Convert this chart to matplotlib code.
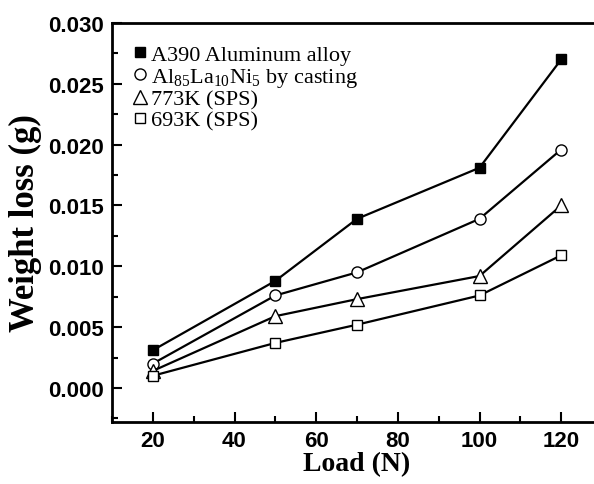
import numpy as np
import matplotlib
matplotlib.use("Agg")
import matplotlib.pyplot as plt
from matplotlib.ticker import MultipleLocator, FormatStrFormatter

plt.rcParams['mathtext.fontset'] = 'custom'
plt.rcParams['mathtext.rm'] = 'Liberation Serif'
plt.rcParams['mathtext.it'] = 'Liberation Serif:italic'

# data
load = [20, 50, 70, 100, 120]
a390 = [0.0031, 0.0088, 0.0139, 0.0181, 0.0270]
casting = [0.0020, 0.0076, 0.0095, 0.0139, 0.0196]
sps_773 = [0.0014, 0.0059, 0.0073, 0.0092, 0.0150]
sps_693 = [0.0010, 0.0037, 0.0052, 0.0076, 0.0109]

labels = ['A390 Aluminum alloy',
          r'Al$\mathregular{_{85}}$La$\mathregular{_{10}}$Ni$\mathregular{_{5}}$ by casting',
          '773K (SPS)',
          '693K (SPS)']

fig = plt.figure(figsize=(5.94, 4.85), dpi=100)
ax = fig.add_axes([112/594, 1 - 423/485, (602 - 112)/594, (423 - 24)/485])

ax.plot(load, a390, '-s', color='black', mfc='black', ms=7, lw=1.6, label=labels[0])
ax.plot(load, casting, '-o', color='black', mfc='white', ms=8, mew=1.0, lw=1.6, label=labels[1])
ax.plot(load, sps_773, '-^', color='black', mfc='white', ms=9.5, mew=1.0, lw=1.6, label=labels[2])
ax.plot(load, sps_693, '-s', color='black', mfc='white', ms=7, mew=1.0, lw=1.6, label=labels[3])

ax.set_xlim(10, 130)
ax.set_ylim(-0.0028, 0.030)
ax.xaxis.set_major_locator(MultipleLocator(20))
ax.xaxis.set_minor_locator(MultipleLocator(10))
ax.yaxis.set_major_locator(MultipleLocator(0.005))
ax.yaxis.set_minor_locator(MultipleLocator(0.0025))
ax.yaxis.set_major_formatter(FormatStrFormatter('%.3f'))

ax.tick_params(which='major', direction='in', length=7, width=1.5, pad=6)
ax.tick_params(which='minor', direction='in', length=4, width=1.5)
for lab in ax.get_xticklabels() + ax.get_yticklabels():
    lab.set_fontfamily('Liberation Sans')
    lab.set_fontweight('bold')
    lab.set_fontsize(16)
for sp in ax.spines.values():
    sp.set_linewidth(2)

ax.set_xlabel('Load (N)', fontfamily='Liberation Serif', fontweight='bold', fontsize=20, labelpad=0)
ax.set_ylabel('Weight loss (g)', fontfamily='Liberation Serif', fontweight='bold', fontsize=25, labelpad=4)

leg = ax.legend(loc='upper left', frameon=False, prop={'family': 'Liberation Serif', 'size': 16},
                handlelength=0, handletextpad=0.5, labelspacing=0.02,
                borderaxespad=0.3, bbox_to_anchor=(0.025, 0.985))
for h in leg.legend_handles:
    h.set_linestyle('none')

fig.savefig('out.png', dpi=100)
